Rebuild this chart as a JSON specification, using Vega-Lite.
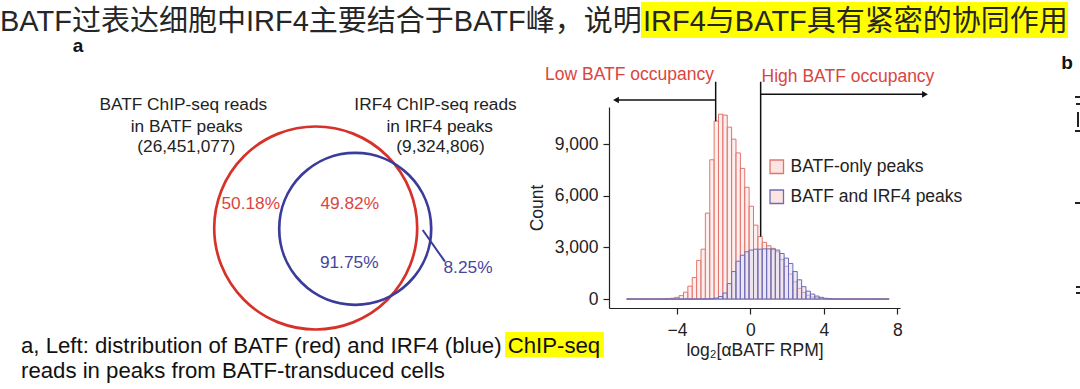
{
  "$schema": "https://vega.github.io/schema/vega-lite/v6.json",
  "background": "white",
  "padding": 0,
  "bounds": "flush",
  "spacing": 0,
  "config": {
    "view": {"stroke": null},
    "font": "Liberation Sans",
    "axis": {"labelFont": "Liberation Sans", "titleFont": "Liberation Sans", "labelFontSize": 17.5, "titleFontSize": 17.5, "titleFontWeight": "normal", "labelColor": "#222", "titleColor": "#222", "domainColor": "#222", "tickColor": "#222", "grid": false, "tickSize": 6, "domainWidth": 1.2, "tickWidth": 1.2},
    "legend": {"labelFontSize": 17.5, "labelFont": "Liberation Sans", "labelColor": "#222", "labelLimit": 400, "symbolType": "square", "symbolSize": 182, "symbolStrokeWidth": 1.3, "symbolFillColor": "#ffffff", "rowPadding": 10, "labelOffset": 5, "padding": 0}
  },
  "datasets": {
    "titleHL": [{"x0": 641, "x1": 1068, "y0": 2, "y1": 38}],
    "titleText": [
      {"t": "BATF过表达细胞中IRF4主要结合于BATF峰，说明", "x": 0, "y": 22},
      {"t": "IRF4与BATF具有紧密的协同作用", "x": 643, "y": 22}
    ],
    "letters": [{"t": "a", "x": 78, "y": 46}, {"t": "b", "x": 1067, "y": 63}],
    "edgeMarks": [
      {"x0": 1075, "x1": 1080, "y0": 97, "y1": 97},
      {"x0": 1076, "x1": 1080, "y0": 104, "y1": 104},
      {"x0": 1078, "x1": 1078, "y0": 112, "y1": 127},
      {"x0": 1075, "x1": 1080, "y0": 131, "y1": 131},
      {"x0": 1075, "x1": 1080, "y0": 203, "y1": 203},
      {"x0": 1076, "x1": 1080, "y0": 287, "y1": 287},
      {"x0": 1076, "x1": 1080, "y0": 293, "y1": 293}
    ],
    "venn": [
      {"set": "BATF", "cx": 315.7, "cy": 228},
      {"set": "IRF4", "cx": 355.2, "cy": 228.8}
    ],
    "leader": [{"x": 422.7, "y": 230, "x2": 445, "y2": 261.7}],
    "vennText": [
      {"t": "BATF ChIP-seq reads", "x": 183.3, "y": 105, "set": "none"},
      {"t": "in BATF peaks", "x": 186.7, "y": 126.7, "set": "none"},
      {"t": "(26,451,077)", "x": 186.3, "y": 146.7, "set": "none"},
      {"t": "IRF4 ChIP-seq reads", "x": 435.5, "y": 105, "set": "none"},
      {"t": "in IRF4 peaks", "x": 439.7, "y": 126.7, "set": "none"},
      {"t": "(9,324,806)", "x": 440.5, "y": 146.7, "set": "none"},
      {"t": "50.18%", "x": 250.8, "y": 204, "set": "BATF"},
      {"t": "49.82%", "x": 349.7, "y": 204, "set": "BATF"},
      {"t": "91.75%", "x": 349.2, "y": 262.7, "set": "IRF4"},
      {"t": "8.25%", "x": 468, "y": 268.3, "set": "IRF4"}
    ],
    "capHL": [{"x0": 505, "x1": 604, "y0": 332, "y1": 357}],
    "caption": [
      {"t": "a, Left: distribution of BATF (red) and IRF4 (blue) ChIP-seq", "x": 21, "y": 346},
      {"t": "reads in peaks from BATF-transduced cells", "x": 21, "y": 371}
    ],
    "hist": [
      {"lo": -6.740, "hi": -6.502, "only": 0, "both": 0},
      {"lo": -6.502, "hi": -6.263, "only": 0, "both": 0},
      {"lo": -6.263, "hi": -6.025, "only": 0, "both": 0},
      {"lo": -6.025, "hi": -5.787, "only": 0, "both": 0},
      {"lo": -5.787, "hi": -5.549, "only": 0, "both": 0},
      {"lo": -5.549, "hi": -5.310, "only": 0, "both": 0},
      {"lo": -5.310, "hi": -5.072, "only": 0, "both": 0},
      {"lo": -5.072, "hi": -4.834, "only": 5, "both": 0},
      {"lo": -4.834, "hi": -4.595, "only": 10, "both": 0},
      {"lo": -4.595, "hi": -4.357, "only": 25, "both": 0},
      {"lo": -4.357, "hi": -4.119, "only": 50, "both": 0},
      {"lo": -4.119, "hi": -3.880, "only": 100, "both": 0},
      {"lo": -3.880, "hi": -3.642, "only": 200, "both": 0},
      {"lo": -3.642, "hi": -3.404, "only": 400, "both": 0},
      {"lo": -3.404, "hi": -3.166, "only": 750, "both": 0},
      {"lo": -3.166, "hi": -2.927, "only": 1250, "both": 0},
      {"lo": -2.927, "hi": -2.689, "only": 2250, "both": 0},
      {"lo": -2.689, "hi": -2.451, "only": 2900, "both": 5},
      {"lo": -2.451, "hi": -2.212, "only": 5000, "both": 10},
      {"lo": -2.212, "hi": -1.974, "only": 8100, "both": 20},
      {"lo": -1.974, "hi": -1.736, "only": 10350, "both": 60},
      {"lo": -1.736, "hi": -1.497, "only": 10750, "both": 150},
      {"lo": -1.497, "hi": -1.259, "only": 10700, "both": 350},
      {"lo": -1.259, "hi": -1.021, "only": 10000, "both": 900},
      {"lo": -1.021, "hi": -0.783, "only": 9300, "both": 1600},
      {"lo": -0.783, "hi": -0.544, "only": 8500, "both": 2200},
      {"lo": -0.544, "hi": -0.306, "only": 7600, "both": 2550},
      {"lo": -0.306, "hi": -0.068, "only": 6500, "both": 2750},
      {"lo": -0.068, "hi": 0.171, "only": 5400, "both": 2850},
      {"lo": 0.171, "hi": 0.409, "only": 4300, "both": 2900},
      {"lo": 0.409, "hi": 0.647, "only": 3630, "both": 2900},
      {"lo": 0.647, "hi": 0.886, "only": 3300, "both": 2920},
      {"lo": 0.886, "hi": 1.124, "only": 3100, "both": 2920},
      {"lo": 1.124, "hi": 1.362, "only": 2950, "both": 2900},
      {"lo": 1.362, "hi": 1.601, "only": 2750, "both": 2850},
      {"lo": 1.601, "hi": 1.839, "only": 2300, "both": 2650},
      {"lo": 1.839, "hi": 2.077, "only": 1900, "both": 2380},
      {"lo": 2.077, "hi": 2.315, "only": 1450, "both": 2070},
      {"lo": 2.315, "hi": 2.554, "only": 1000, "both": 1600},
      {"lo": 2.554, "hi": 2.792, "only": 620, "both": 1120},
      {"lo": 2.792, "hi": 3.030, "only": 380, "both": 720},
      {"lo": 3.030, "hi": 3.269, "only": 220, "both": 460},
      {"lo": 3.269, "hi": 3.507, "only": 120, "both": 290},
      {"lo": 3.507, "hi": 3.745, "only": 70, "both": 175},
      {"lo": 3.745, "hi": 3.984, "only": 35, "both": 100},
      {"lo": 3.984, "hi": 4.222, "only": 15, "both": 45},
      {"lo": 4.222, "hi": 4.460, "only": 5, "both": 20},
      {"lo": 4.460, "hi": 4.698, "only": 0, "both": 8},
      {"lo": 4.698, "hi": 4.937, "only": 0, "both": 0},
      {"lo": 4.937, "hi": 5.175, "only": 0, "both": 0},
      {"lo": 5.175, "hi": 5.413, "only": 0, "both": 0},
      {"lo": 5.413, "hi": 5.652, "only": 0, "both": 0},
      {"lo": 5.652, "hi": 5.890, "only": 0, "both": 0},
      {"lo": 5.890, "hi": 6.128, "only": 0, "both": 0},
      {"lo": 6.128, "hi": 6.367, "only": 0, "both": 0},
      {"lo": 6.367, "hi": 6.605, "only": 0, "both": 0},
      {"lo": 6.605, "hi": 6.843, "only": 0, "both": 0},
      {"lo": 6.843, "hi": 7.081, "only": 0, "both": 0},
      {"lo": 7.081, "hi": 7.320, "only": 0, "both": 0},
      {"lo": 7.320, "hi": 7.558, "only": 0, "both": 0}
    ],
    "arrows": [
      {"x": -1.89, "y": 12640, "x2": -1.89, "y2": 10350},
      {"x": 0.56, "y": 12640, "x2": 0.56, "y2": 3630},
      {"x": -1.89, "y": 11577, "x2": -7.3, "y2": 11577},
      {"x": 0.56, "y": 11909, "x2": 9.5, "y2": 11909}
    ],
    "heads": [
      {"x": -7.32, "y": 11577, "dir": "left"},
      {"x": 9.51, "y": 11909, "dir": "right"}
    ],
    "occ": [
      {"t": "Low BATF occupancy", "x": -6.585, "y": 13049},
      {"t": "High BATF occupancy", "x": 5.316, "y": 12927}
    ]
  },
  "vconcat": [
    {
      "width": 1080,
      "height": 107,
      "layer": [
        {
          "data": {"name": "titleHL"},
          "mark": {"type": "rect", "color": "#ffff00"},
          "encoding": {
            "x": {"field": "x0", "type": "quantitative", "scale": {"domain": [0, 1080], "nice": false, "zero": false}, "axis": null},
            "x2": {"field": "x1"},
            "y": {"field": "y0", "type": "quantitative", "scale": {"domain": [0, 107], "nice": false, "zero": false, "reverse": true}, "axis": null},
            "y2": {"field": "y1"}
          }
        },
        {
          "data": {"name": "titleText"},
          "mark": {"type": "text", "align": "left", "baseline": "middle", "fontSize": 29, "font": "Liberation Sans, Noto Sans CJK SC", "color": "#262626"},
          "encoding": {
            "x": {"field": "x", "type": "quantitative", "axis": null},
            "y": {"field": "y", "type": "quantitative", "axis": null},
            "text": {"field": "t"}
          }
        },
        {
          "data": {"name": "letters"},
          "mark": {"type": "text", "align": "center", "baseline": "middle", "fontSize": 19, "fontWeight": "bold", "font": "Liberation Sans", "color": "#111"},
          "encoding": {
            "x": {"field": "x", "type": "quantitative", "axis": null},
            "y": {"field": "y", "type": "quantitative", "axis": null},
            "text": {"field": "t"}
          }
        },
        {
          "data": {"name": "edgeMarks"},
          "mark": {"type": "rule", "color": "#222", "strokeWidth": 2},
          "encoding": {
            "x": {"field": "x0", "type": "quantitative", "axis": null},
            "x2": {"field": "x1"},
            "y": {"field": "y0", "type": "quantitative", "axis": null},
            "y2": {"field": "y1"}
          }
        }
      ]
    },
    {
      "bounds": "flush",
      "spacing": 0,
      "hconcat": [
        {
          "width": 609,
          "height": 201,
          "layer": [
            {
              "data": {"name": "venn"},
              "transform": [{"filter": "datum.set === 'BATF'"}],
              "mark": {"type": "point", "shape": "circle", "size": 41209, "filled": false, "stroke": "#d6322a", "strokeWidth": 2.7, "opacity": 1},
              "encoding": {
                "x": {"field": "cx", "type": "quantitative", "scale": {"domain": [0, 609], "nice": false, "zero": false}, "axis": null},
                "y": {"field": "cy", "type": "quantitative", "scale": {"domain": [107, 308], "nice": false, "zero": false, "reverse": true}, "axis": null}
              }
            },
            {
              "data": {"name": "venn"},
              "transform": [{"filter": "datum.set === 'IRF4'"}],
              "mark": {"type": "point", "shape": "circle", "size": 23104, "filled": false, "stroke": "#3b3b9b", "strokeWidth": 2.7, "opacity": 1},
              "encoding": {
                "x": {"field": "cx", "type": "quantitative", "axis": null},
                "y": {"field": "cy", "type": "quantitative", "axis": null}
              }
            },
            {
              "data": {"name": "leader"},
              "mark": {"type": "rule", "color": "#3b3b9b", "strokeWidth": 2},
              "encoding": {
                "x": {"field": "x", "type": "quantitative", "axis": null},
                "x2": {"field": "x2"},
                "y": {"field": "y", "type": "quantitative", "axis": null},
                "y2": {"field": "y2"}
              }
            },
            {
              "data": {"name": "vennText"},
              "mark": {"type": "text", "align": "center", "baseline": "middle", "fontSize": 17.3, "font": "Liberation Sans"},
              "encoding": {
                "x": {"field": "x", "type": "quantitative", "axis": null},
                "y": {"field": "y", "type": "quantitative", "axis": null},
                "text": {"field": "t"},
                "color": {"field": "set", "type": "nominal", "scale": {"domain": ["none", "BATF", "IRF4"], "range": ["#222222", "#d9463e", "#45459d"]}, "legend": null}
              }
            },
            {
              "data": {"name": "capHL"},
              "mark": {"type": "rect", "color": "#ffff00"},
              "encoding": {
                "x": {"field": "x0", "type": "quantitative", "axis": null},
                "x2": {"field": "x1"},
                "y": {"field": "y0", "type": "quantitative", "axis": null},
                "y2": {"field": "y1"}
              }
            },
            {
              "data": {"name": "caption"},
              "mark": {"type": "text", "align": "left", "baseline": "middle", "fontSize": 22.2, "font": "Liberation Sans", "color": "#111"},
              "encoding": {
                "x": {"field": "x", "type": "quantitative", "axis": null},
                "y": {"field": "y", "type": "quantitative", "axis": null},
                "text": {"field": "t"}
              }
            }
          ]
        },
        {
          "width": 291,
          "height": 201,
          "layer": [
            {
              "data": {"name": "hist"},
              "mark": {"type": "bar", "fill": "#fbe4e2", "fillOpacity": 0.6, "strokeWidth": 1},
              "encoding": {
                "x": {"field": "lo", "type": "quantitative", "title": "log₂[αBATF RPM]", "scale": {"domain": [-7.7, 8.15], "nice": false, "zero": false}, "axis": {"values": [-4, 0, 4, 8], "labelPadding": 7, "titlePadding": 3}},
                "x2": {"field": "hi"},
                "y": {"field": "only", "type": "quantitative", "title": "Count", "scale": {"domain": [-520, 11170], "nice": false, "zero": false}, "axis": {"values": [0, 3000, 6000, 9000], "format": ",.0f", "labelPadding": 5, "titlePadding": 8}},
                "y2": {"datum": 0},
                "stroke": {"datum": "BATF-only peaks", "type": "nominal", "scale": {"domain": ["BATF-only peaks", "BATF and IRF4 peaks"], "range": ["#e2756d", "#6c6cb8"]},
                  "legend": {"orient": "none", "legendX": 768, "legendY": 158, "title": null, "labelFontSize": 17.5, "labelLimit": 400}}
              }
            },
            {
              "data": {"name": "hist"},
              "mark": {"type": "bar", "fill": "#d6d6f0", "fillOpacity": 0.45, "strokeWidth": 1},
              "encoding": {
                "x": {"field": "lo", "type": "quantitative", "title": "log₂[αBATF RPM]", "axis": {"values": [-4, 0, 4, 8], "labelPadding": 7, "titlePadding": 3}},
                "x2": {"field": "hi"},
                "y": {"field": "both", "type": "quantitative", "title": "Count", "axis": {"values": [0, 3000, 6000, 9000], "format": ",.0f", "labelPadding": 5, "titlePadding": 8}},
                "y2": {"datum": 0},
                "stroke": {"datum": "BATF and IRF4 peaks", "type": "nominal", "legend": {"orient": "none", "legendX": 768, "legendY": 158, "title": null, "labelFontSize": 17.5, "labelLimit": 400}}
              }
            },
            {
              "data": {"name": "arrows"},
              "mark": {"type": "rule", "color": "#111", "strokeWidth": 1.5},
              "encoding": {
                "x": {"field": "x", "type": "quantitative", "title": "log₂[αBATF RPM]", "axis": {"values": [-4, 0, 4, 8], "labelPadding": 7, "titlePadding": 3}},
                "x2": {"field": "x2"},
                "y": {"field": "y", "type": "quantitative", "title": "Count", "axis": {"values": [0, 3000, 6000, 9000], "format": ",.0f", "labelPadding": 5, "titlePadding": 8}},
                "y2": {"field": "y2"}
              }
            },
            {
              "data": {"name": "heads"},
              "mark": {"type": "point", "filled": true, "color": "#111", "size": 45, "opacity": 1},
              "encoding": {
                "x": {"field": "x", "type": "quantitative", "title": "log₂[αBATF RPM]", "axis": {"values": [-4, 0, 4, 8], "labelPadding": 7, "titlePadding": 3}},
                "y": {"field": "y", "type": "quantitative", "title": "Count", "axis": {"values": [0, 3000, 6000, 9000], "format": ",.0f", "labelPadding": 5, "titlePadding": 8}},
                "shape": {"field": "dir", "type": "nominal", "scale": {"domain": ["left", "right"], "range": ["triangle-left", "triangle-right"]}, "legend": null}
              }
            },
            {
              "data": {"name": "occ"},
              "mark": {"type": "text", "align": "center", "baseline": "middle", "fontSize": 17.5, "font": "Liberation Sans", "color": "#d9453f"},
              "encoding": {
                "x": {"field": "x", "type": "quantitative", "title": "log₂[αBATF RPM]", "axis": {"values": [-4, 0, 4, 8], "labelPadding": 7, "titlePadding": 3}},
                "y": {"field": "y", "type": "quantitative", "title": "Count", "axis": {"values": [0, 3000, 6000, 9000], "format": ",.0f", "labelPadding": 5, "titlePadding": 8}},
                "text": {"field": "t"}
              }
            }
          ]
        }
      ]
    }
  ]
}
